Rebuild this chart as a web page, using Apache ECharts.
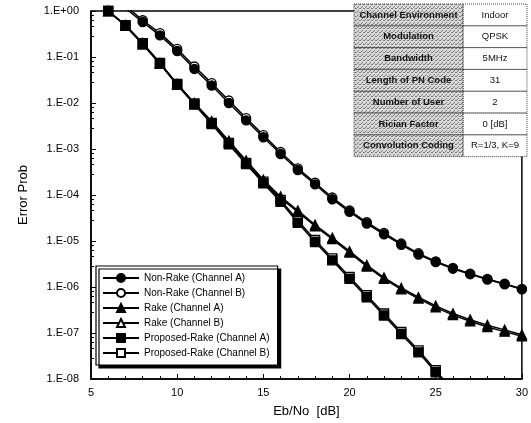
<!DOCTYPE html>
<html><head><meta charset="utf-8">
<script src="https://cdn.jsdelivr.net/npm/echarts@6/dist/echarts.min.js"></script>
<style>html,body{margin:0;padding:0;background:#fff}#c{width:531px;height:423px}</style>
</head><body><div id="c"></div>
<script>
// ---- data ----
var ebno = [6,7,8,9,10,11,12,13,14,15,16,17,18,19,20,21,22,23,24,25,26,27,28,29,30];
var nonRakeA = [null,1.15,0.575,0.295,0.135,0.055,0.024,0.010,4.2e-3,1.8e-3,7.8e-4,3.5e-4,1.7e-4,8.1e-5,4.3e-5,2.4e-5,1.4e-5,8.3e-6,5.1e-6,3.5e-6,2.5e-6,1.9e-6,1.45e-6,1.15e-6,8.9e-7];
var nonRakeB = [null,1.3,0.63,0.33,0.15,0.062,0.027,0.0113,4.7e-3,2.0e-3,8.6e-4,3.8e-4,1.85e-4,8.8e-5,4.6e-5,2.55e-5,1.5e-5,8.8e-6,5.4e-6,3.6e-6,2.6e-6,1.95e-6,1.5e-6,1.18e-6,9.1e-7];
var rakeA = [1,0.48,0.19,0.071,0.025,9.5e-3,3.8e-3,1.4e-3,5.2e-4,2.0e-4,8.5e-5,4.3e-5,2.1e-5,1.1e-5,5.6e-6,2.8e-6,1.5e-6,8.9e-7,5.6e-7,3.6e-7,2.45e-7,1.8e-7,1.35e-7,1.07e-7,8.5e-8];
var rakeB = [1,0.49,0.2,0.074,0.026,0.010,4.0e-3,1.5e-3,5.6e-4,2.15e-4,9.2e-5,4.6e-5,2.25e-5,1.17e-5,6.0e-6,3.0e-6,1.6e-6,9.5e-7,6.0e-7,3.9e-7,2.65e-7,1.95e-7,1.48e-7,1.17e-7,9.2e-8];
var propA = [1,0.48,0.19,0.071,0.025,9.3e-3,3.5e-3,1.26e-3,4.7e-4,1.8e-4,7.1e-5,2.5e-5,9.5e-6,3.8e-6,1.5e-6,6.0e-7,2.4e-7,9.5e-8,3.8e-8,1.4e-8,5e-9];
var propB = [1,0.49,0.2,0.074,0.026,9.8e-3,3.7e-3,1.35e-3,5.0e-4,1.95e-4,7.8e-5,2.8e-5,1.05e-5,4.2e-6,1.65e-6,6.6e-7,2.65e-7,1.05e-7,4.2e-8,1.55e-8,5.5e-9];
var seriesNames = ['Non-Rake (Channel A)','Non-Rake (Channel B)','Rake (Channel A)','Rake (Channel B)','Proposed-Rake (Channel A)','Proposed-Rake (Channel B)'];
var yTickLabels = ['1.E+00','1.E-01','1.E-02','1.E-03','1.E-04','1.E-05','1.E-06','1.E-07','1.E-08'];
var tableLeft = ['Channel Environment','Modulation','Bandwidth','Length of PN Code','Number of User','Rician Factor','Convolution Coding'];
var tableRight = ['Indoor','QPSK','5MHz','31','2','0 [dB]','R=1/3, K=9'];

function pairs(vals){var out=[];for(var i=0;i<vals.length;i++){if(vals[i]!=null)out.push([ebno[i],vals[i]]);}return out;}

var chart = echarts.init(document.getElementById('c'), null, {renderer:'canvas'});
var FONT = '"Liberation Sans", Arial, sans-serif';

// stipple pattern for the table's left column
var pc = document.createElement('canvas'); pc.width=4; pc.height=4;
var pctx = pc.getContext('2d'); pctx.fillStyle='#d9d9d9'; pctx.fillRect(0,0,4,4);
pctx.fillStyle='#7a7a7a'; pctx.fillRect(0,0,1,1); pctx.fillRect(2,2,1,1); pctx.fillRect(3,0,1,1); pctx.fillRect(1,3,1,1);

var markers = [
  {symbol:'circle', fill:'#000'},
  {symbol:'circle', fill:'#fff'},
  {symbol:'triangle', fill:'#000'},
  {symbol:'triangle', fill:'#fff'},
  {symbol:'rect', fill:'#000'},
  {symbol:'rect', fill:'#fff'}
];
var dataSets = [nonRakeA, nonRakeB, rakeA, rakeB, propA, propB];
var zOrder = [6,3,5,2,4,1];
var series = dataSets.map(function(d,i){
  return {
    name: seriesNames[i], type:'line', data: pairs(d), clip:true,
    symbol: markers[i].symbol, symbolSize: 9, showAllSymbol:true,
    lineStyle:{color:'#000', width:1.5},
    itemStyle:{color: markers[i].fill, borderColor:'#000', borderWidth:1.4},
    emphasis:{disabled:true}, animation:false, z: zOrder[i]
  };
});

// table graphics
var graphics = [];
var tx0 = 354, tx1 = 463, tx2 = 527, ty0 = 4, rh = 21.8;
graphics.push({type:'rect', shape:{x:tx0, y:ty0, width:tx2-tx0, height:rh*7}, style:{fill:'#fff', stroke:null}, z:100});
graphics.push({type:'rect', shape:{x:tx0, y:ty0, width:tx1-tx0, height:rh*7}, style:{fill:{image:pc, repeat:'repeat'}, stroke:null}, z:101});
for (var r=0;r<7;r++){
  var yy = ty0 + r*rh;
  graphics.push({type:'rect', shape:{x:tx0, y:yy, width:tx1-tx0, height:rh}, style:{fill:null, stroke:'#444', lineWidth:1, lineDash:[1,1]}, z:102});
  graphics.push({type:'rect', shape:{x:tx1, y:yy, width:tx2-tx1, height:rh}, style:{fill:null, stroke:'#444', lineWidth:1, lineDash:[1,1]}, z:102});
  graphics.push({type:'text', x:(tx0+tx1)/2, y:yy+rh/2, style:{text:tableLeft[r], font:'bold 9.5px '+FONT, fill:'#111', align:'center', verticalAlign:'middle'}, z:103});
  graphics.push({type:'text', x:(tx1+tx2)/2, y:yy+rh/2, style:{text:tableRight[r], font:'9.5px '+FONT, fill:'#111', align:'center', verticalAlign:'middle'}, z:103});
}

chart.setOption({
  animation:false,
  backgroundColor:'#fff',
  grid:{left:91, right:8, top:11, bottom:42, show:true, borderColor:'#000', borderWidth:1.5, backgroundColor:'transparent'},
  legend:{
    orient:'vertical', left:96, top:266, data:seriesNames,
    itemWidth:36, itemHeight:10, itemGap:5, padding:[7,8,7,6],
    backgroundColor:'#fff', borderColor:'#000', borderWidth:1.2,
    shadowColor:'#000', shadowBlur:0, shadowOffsetX:3, shadowOffsetY:3,
    textStyle:{fontFamily:FONT, fontSize:10, color:'#000'},
    selectedMode:false
  },
  xAxis:{
    type:'value', min:5, max:30, interval:5,
    name:'Eb/No  [dB]', nameLocation:'middle', nameGap:26,
    nameTextStyle:{fontFamily:FONT, fontSize:13, color:'#000'},
    axisLine:{lineStyle:{color:'#000', width:1.5}},
    axisTick:{inside:true, length:5, lineStyle:{color:'#000'}},
    minorTick:{show:true, splitNumber:5, length:3, lineStyle:{color:'#000'}},
    axisLabel:{fontFamily:FONT, fontSize:11, color:'#000', margin:8},
    splitLine:{show:false}
  },
  yAxis:{
    type:'log', logBase:10, min:1e-8, max:1,
    name:'Error Prob', nameLocation:'middle', nameGap:61, nameRotate:90,
    nameTextStyle:{fontFamily:FONT, fontSize:13, color:'#000'},
    axisLine:{lineStyle:{color:'#000', width:1.5}},
    axisTick:{inside:true, length:5, lineStyle:{color:'#000'}},
    minorTick:{show:true, splitNumber:5, length:3, lineStyle:{color:'#000'}},
    axisLabel:{fontFamily:FONT, fontSize:11, color:'#000', margin:12,
      formatter:function(v){var k=Math.round(-Math.log10(v));return yTickLabels[k]||'';}},
    splitLine:{show:false}
  },
  series: series,
  graphic: graphics
});
</script></body></html>
